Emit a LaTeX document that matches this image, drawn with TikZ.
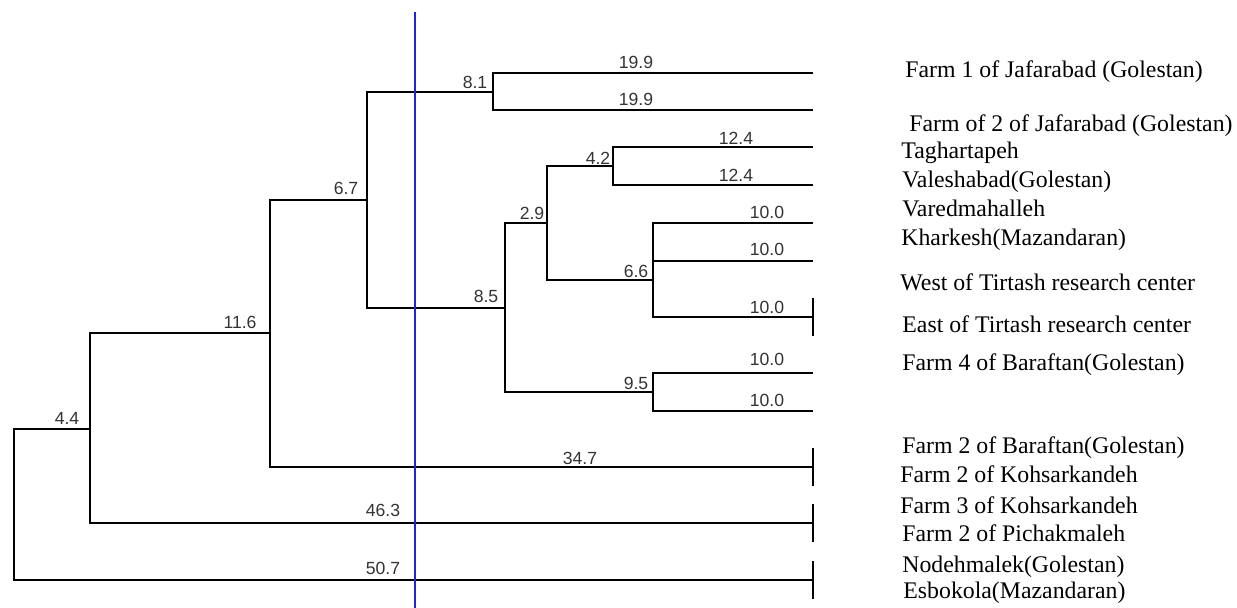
\documentclass[tikz,border=0pt]{standalone}
\usepackage{fontspec}
\setmainfont{Liberation Serif}
\newfontfamily\numfont{Liberation Sans}
\usepackage{tikz}
\usetikzlibrary{calc}
\usepackage{xcolor}
\definecolor{cutblue}{HTML}{2323D8}
\definecolor{numgray}{HTML}{333333}

\begin{document}
\begin{tikzpicture}[
  x=0.5pt, y=-0.5pt,
  branch/.style={
    draw=black,
    line width=0.75pt
  },
  endtick/.style={
    draw=black,
    line width=0.8pt
  },
  cutline/.style={
    draw=cutblue,
    line width=0.75pt
  },
  num/.style={
    font=\numfont\fontsize{8.8pt}{10pt}\selectfont,
    text=numgray,
    inner sep=0pt
  },
  sitename/.style={
    font=\fontsize{11.9pt}{13pt}\selectfont,
    anchor=west,
    inner sep=0pt
  }
]
  \useasboundingbox (0,0) rectangle (1237,608);

  % ---------------------------------------------------------------------------
  % JOIN POINTS AND LEAF ENDS
  % ---------------------------------------------------------------------------
  \coordinate (root) at (14,505);
  \coordinate (n44)  at (90,429);
  \coordinate (n116) at (270,333);
  \coordinate (n67)  at (367,200);
  \coordinate (n81)  at (493,92);
  \coordinate (n85)  at (505,308);
  \coordinate (n29)  at (547,223);
  \coordinate (n42)  at (613,166);
  \coordinate (n66)  at (653,280);
  \coordinate (n95)  at (653,392);

  \coordinate (leaf1)  at (813,73);
  \coordinate (leaf2)  at (813,110);
  \coordinate (leaf3)  at (813,147);
  \coordinate (leaf4)  at (813,185);
  \coordinate (leaf5)  at (813,223);
  \coordinate (leaf6)  at (813,261);
  \coordinate (leaf7)  at (813,317);
  \coordinate (leaf8)  at (813,373);
  \coordinate (leaf9)  at (813,411);
  \coordinate (leaf10) at (813,467);
  \coordinate (leaf11) at (813,523);
  \coordinate (leaf12) at (813,580);

  % ---------------------------------------------------------------------------
  % BRANCHES
  % ---------------------------------------------------------------------------
  \draw[branch] (leaf1) -| (n81) |- (leaf2);
  \draw[branch] (leaf3) -| (n42) |- (leaf4);
  \draw[branch] (leaf5) -| (n66) |- (leaf7);
  \draw[branch] (n66 |- leaf6) -- (leaf6);
  \draw[branch] (leaf8) -| (n95) |- (leaf9);
  \draw[branch] (n42) -| (n29) |- (n66);
  \draw[branch] (n29) -| (n85) |- (n95);
  \draw[branch] (n81) -| (n67) |- (n85);
  \draw[branch] (n67) -| (n116) |- (leaf10);
  \draw[branch] (n116) -| (n44) |- (leaf11);
  \draw[branch] (n44) -| (root) |- (leaf12);

  % End ticks
  \foreach \leaf in {leaf7,leaf10,leaf11,leaf12}
    \draw[endtick] ($(\leaf)+(0,-19)$) -- ($(\leaf)+(0,19)$);

  % Cut line
  \coordinate (cuttop) at (415,12);
  \coordinate (cutbot) at (415,608);
  \draw[cutline] (cuttop) -- (cutbot);

  % ---------------------------------------------------------------------------
  % DISTANCES
  % ---------------------------------------------------------------------------
  \node[num] (d1)  at (636,62)  {19.9};
  \node[num] (d2)  at (636,99)  {19.9};
  \node[num] (d3)  at (736,138) {12.4};
  \node[num] (d4)  at (736,175) {12.4};
  \node[num] (d5)  at (767,212) {10.0};
  \node[num] (d6)  at (767,249) {10.0};
  \node[num] (d7)  at (767,307) {10.0};
  \node[num] (d8)  at (767,359) {10.0};
  \node[num] (d9)  at (767,400) {10.0};
  \node[num] (d10) at (580,458) {34.7};
  \node[num] (d11) at (383,510) {46.3};
  \node[num] (d12) at (383,568) {50.7};

  \node[num] (j81)  at (475,82)  {8.1};
  \node[num] (j67)  at (346,188) {6.7};
  \node[num] (j42)  at (598,158) {4.2};
  \node[num] (j29)  at (532,213) {2.9};
  \node[num] (j85)  at (486,296) {8.5};
  \node[num] (j66)  at (636,271) {6.6};
  \node[num] (j95)  at (636,383) {9.5};
  \node[num] (j116) at (240,322) {11.6};
  \node[num] (j44)  at (67,418)  {4.4};

  % ---------------------------------------------------------------------------
  % SITE NAMES
  % ---------------------------------------------------------------------------
  \node[sitename] (s1)  at (905,72)  {Farm 1 of Jafarabad (Golestan)};
  \node[sitename] (s2)  at (909,126) {Farm of 2 of Jafarabad (Golestan)};
  \node[sitename] (s3)  at (901,153) {Taghartapeh};
  \node[sitename] (s4)  at (902,182) {Valeshabad(Golestan)};
  \node[sitename] (s5)  at (902,208) {Varedmahalleh};
  \node[sitename] (s6)  at (901,240) {Kharkesh(Mazandaran)};
  \node[sitename] (s7)  at (900,282) {West of Tirtash research center};
  \node[sitename] (s8)  at (902,324) {East of Tirtash research center};
  \node[sitename] (s9)  at (902,365) {Farm 4 of Baraftan(Golestan)};
  \node[sitename] (s10) at (902,448) {Farm 2 of Baraftan(Golestan)};
  \node[sitename] (s11) at (900,474) {Farm 2 of Kohsarkandeh};
  \node[sitename] (s12) at (900,505) {Farm 3 of Kohsarkandeh};
  \node[sitename] (s13) at (902,533) {Farm 2 of Pichakmaleh};
  \node[sitename] (s14) at (902,567) {Nodehmalek(Golestan)};
  \node[sitename] (s15) at (903,593) {Esbokola(Mazandaran)};

\end{tikzpicture}
\end{document}
